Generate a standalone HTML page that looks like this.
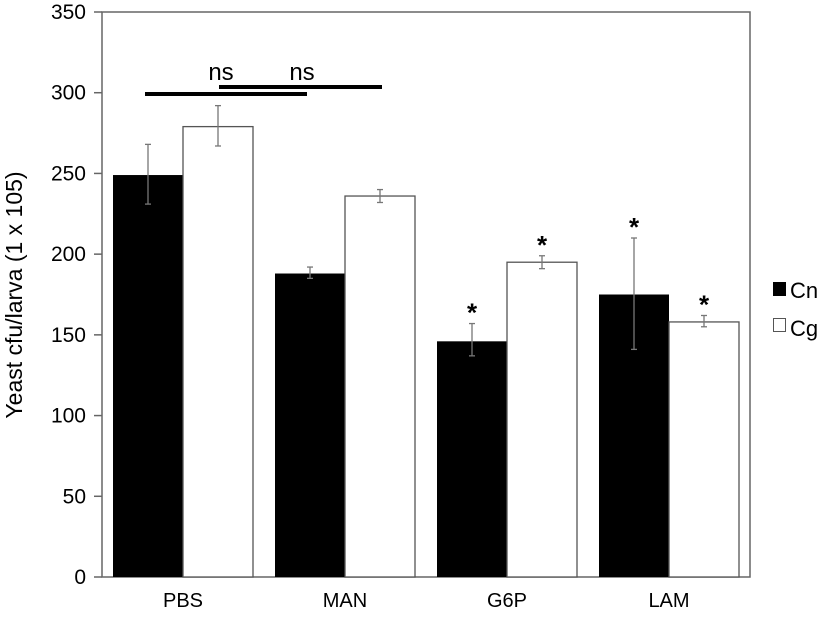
<!DOCTYPE html>
<html><head><meta charset="utf-8"><style>
body{margin:0;background:#fff;}
svg text{font-family:"Liberation Sans",Arial,sans-serif;fill:#000;}
</style></head><body>
<svg id="chart" width="826" height="619" xmlns="http://www.w3.org/2000/svg">
<g id="axes"></g><g id="bars"></g><g id="annot"></g>
<text transform="translate(22,295) rotate(-90)" text-anchor="middle" font-size="23">Yeast cfu/larva (1 x 105)</text>
<g>
<rect x="773" y="282" width="13" height="14" fill="#000"/>
<text x="790" y="298" font-size="22">Cn</text>
<rect x="773.5" y="318.5" width="12" height="13" fill="#fff" stroke="#555"/>
<text x="790" y="336" font-size="22">Cg</text>
</g>
</svg>
<script>
const categories=["PBS","MAN","G6P","LAM"];
const cnValues=[249,188,146,175];
const cnLow=[231,185,137,141];
const cnHigh=[268,192,157,210];
const cgValues=[279,236,195,158];
const cgLow=[267,232,191,155];
const cgHigh=[292,240,199,162];
const cnStar=[false,false,true,true];
const cgStar=[false,false,true,true];
const yTicks=[0,50,100,150,200,250,300,350];
const NS="http://www.w3.org/2000/svg";
const L=102,R=750,T=12,B=577,yMax=350;
const y=v=>B-(v/yMax)*(B-T);
const gw=(R-L)/categories.length;
const bw=70;
function mk(tag,attrs,parent){const e=document.createElementNS(NS,tag);for(const k in attrs)e.setAttribute(k,attrs[k]);parent.appendChild(e);return e;}
const axes=document.getElementById('axes'),bars=document.getElementById('bars'),annot=document.getElementById('annot');
let frame=mk('rect',{x:L,y:T,width:R-L,height:B-T,fill:'none',stroke:'#666','stroke-width':1.5},axes);


yTicks.forEach(t=>{
 let ln=mk('line',{x1:L-8,x2:L,y1:y(t),y2:y(t),stroke:'#666','stroke-width':1.5},axes);
 
 
 let tx=mk('text',{x:L-16,y:y(t)+7,'text-anchor':'end','font-size':21},axes);
 tx.textContent=t;
 
 
});
function errbar(cx,lo,hi){
 mk('line',{x1:cx,x2:cx,y1:y(lo),y2:y(hi),stroke:'#777','stroke-width':1.3},bars);
 mk('line',{x1:cx-3,x2:cx+3,y1:y(lo),y2:y(lo),stroke:'#777','stroke-width':1.3},bars);
 mk('line',{x1:cx-3,x2:cx+3,y1:y(hi),y2:y(hi),stroke:'#777','stroke-width':1.3},bars);
}
function star(cx,hi){
 let s=mk('text',{x:cx,y:y(hi)-2,'text-anchor':'middle','font-size':26,'font-weight':'bold'},annot);
 s.textContent='*';
 
 
}
categories.forEach((c,i)=>{
 const gx=L+gw*i+(gw-2*bw)/2;
 let b1=mk('rect',{x:gx,y:y(cnValues[i]),width:bw,height:B-y(cnValues[i]),fill:'#000'},bars);
 
 
 let b2=mk('rect',{x:gx+bw,y:y(cgValues[i]),width:bw,height:B-y(cgValues[i]),fill:'#fff',stroke:'#555','stroke-width':1.3},bars);
 
 
 errbar(gx+bw/2,cnLow[i],cnHigh[i]);
 errbar(gx+bw*1.5,cgLow[i],cgHigh[i]);
 if(cnStar[i])star(gx+bw/2,cnHigh[i]);
 if(cgStar[i])star(gx+bw*1.5,cgHigh[i]);
 let t=mk('text',{x:L+gw*(i+0.5),y:607,'text-anchor':'middle','font-size':20},axes);
 t.textContent=c;
 
 
});
</script>
<svg style="position:absolute;left:0;top:0" width="826" height="619">
<line x1="145" x2="307" y1="94" y2="94" stroke="#000" stroke-width="4"/>
<line x1="219" x2="382" y1="87" y2="87" stroke="#000" stroke-width="4"/>
<text x="221" y="80" text-anchor="middle" font-size="24" font-family="Liberation Sans, sans-serif">ns</text>
<text x="302" y="80" text-anchor="middle" font-size="24" font-family="Liberation Sans, sans-serif">ns</text>
</svg>
</body></html>
